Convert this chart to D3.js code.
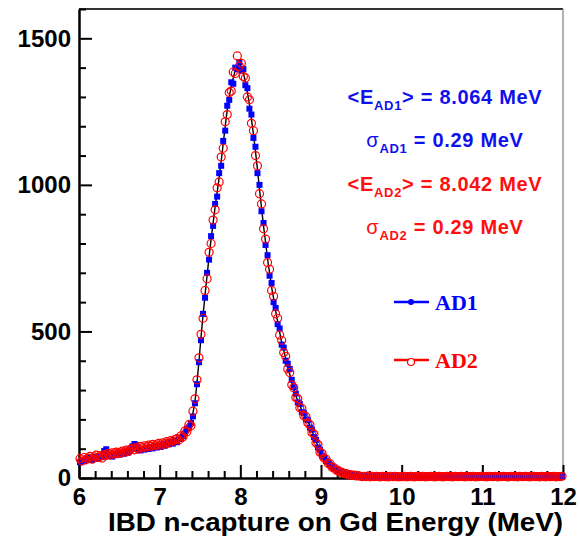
<!DOCTYPE html>
<html>
<head>
<meta charset="utf-8">
<script src="https://cdn.jsdelivr.net/npm/d3@7"></script>
<style>
  body { margin: 0; background: #fff; }
  svg { display: block; }
</style>
</head>
<body>
<svg id="chart" width="580" height="540"></svg>
<script>
// lower bin edges (MeV), 0.025 MeV bins
const binWidth = 0.025;
const binEdges = [
  6.000, 6.025, 6.050, 6.075, 6.100, 6.125, 6.150, 6.175,
  6.200, 6.225, 6.250, 6.275, 6.300, 6.325, 6.350, 6.375,
  6.400, 6.425, 6.450, 6.475, 6.500, 6.525, 6.550, 6.575,
  6.600, 6.625, 6.650, 6.675, 6.700, 6.725, 6.750, 6.775,
  6.800, 6.825, 6.850, 6.875, 6.900, 6.925, 6.950, 6.975,
  7.000, 7.025, 7.050, 7.075, 7.100, 7.125, 7.150, 7.175,
  7.200, 7.225, 7.250, 7.275, 7.300, 7.325, 7.350, 7.375,
  7.400, 7.425, 7.450, 7.475, 7.500, 7.525, 7.550, 7.575,
  7.600, 7.625, 7.650, 7.675, 7.700, 7.725, 7.750, 7.775,
  7.800, 7.825, 7.850, 7.875, 7.900, 7.925, 7.950, 7.975,
  8.000, 8.025, 8.050, 8.075, 8.100, 8.125, 8.150, 8.175,
  8.200, 8.225, 8.250, 8.275, 8.300, 8.325, 8.350, 8.375,
  8.400, 8.425, 8.450, 8.475, 8.500, 8.525, 8.550, 8.575,
  8.600, 8.625, 8.650, 8.675, 8.700, 8.725, 8.750, 8.775,
  8.800, 8.825, 8.850, 8.875, 8.900, 8.925, 8.950, 8.975,
  9.000, 9.025, 9.050, 9.075, 9.100, 9.125, 9.150, 9.175,
  9.200, 9.225, 9.250, 9.275, 9.300, 9.325, 9.350, 9.375,
  9.400, 9.425, 9.450, 9.475, 9.500, 9.525, 9.550, 9.575,
  9.600, 9.625, 9.650, 9.675, 9.700, 9.725, 9.750, 9.775,
  9.800, 9.825, 9.850, 9.875, 9.900, 9.925, 9.950, 9.975,
  10.000, 10.025, 10.050, 10.075, 10.100, 10.125, 10.150, 10.175,
  10.200, 10.225, 10.250, 10.275, 10.300, 10.325, 10.350, 10.375,
  10.400, 10.425, 10.450, 10.475, 10.500, 10.525, 10.550, 10.575,
  10.600, 10.625, 10.650, 10.675, 10.700, 10.725, 10.750, 10.775,
  10.800, 10.825, 10.850, 10.875, 10.900, 10.925, 10.950, 10.975,
  11.000, 11.025, 11.050, 11.075, 11.100, 11.125, 11.150, 11.175,
  11.200, 11.225, 11.250, 11.275, 11.300, 11.325, 11.350, 11.375,
  11.400, 11.425, 11.450, 11.475, 11.500, 11.525, 11.550, 11.575,
  11.600, 11.625, 11.650, 11.675, 11.700, 11.725, 11.750, 11.775,
  11.800, 11.825, 11.850, 11.875, 11.900, 11.925, 11.950, 11.975
];

const ad1Counts = [
  54, 60, 58, 66, 63, 70, 62, 68, 72, 66,
  74, 71, 92, 98, 76, 80, 73, 82, 78, 84,
  80, 86, 83, 90, 87, 94, 108, 116, 112, 96,
  94, 100, 97, 103, 99, 106, 101, 108, 104, 110,
  106, 114, 110, 118, 115, 122, 117, 126, 122, 135,
  133, 142, 152, 168, 172, 188, 210, 255, 320, 395,
  470, 560, 615, 700, 745, 825, 860, 935, 960, 1040,
  1065, 1150, 1185, 1270, 1290, 1350, 1345, 1400, 1395, 1418,
  1390, 1395, 1340, 1330, 1260, 1240, 1160, 1130, 1040, 1000,
  910, 870, 795, 760, 690, 665, 600, 580, 525, 510,
  455, 445, 400, 390, 372, 335, 310, 288, 258, 252,
  225, 222, 200, 197, 172, 165, 140, 130, 104, 96,
  76, 72, 58, 55, 44, 40, 32, 30, 23, 22,
  17, 17, 13, 12, 10, 11, 8, 9, 6, 7,
  6, 5, 7, 5, 6, 4, 6, 5, 7, 5,
  5, 4, 6, 5, 5, 6, 4, 5, 6, 5,
  4, 6, 5, 5, 4, 6, 5, 5, 6, 4,
  5, 6, 5, 4, 5, 6, 5, 5, 4, 6,
  5, 5, 6, 4, 5, 5, 6, 5, 4, 5,
  6, 5, 5, 4, 6, 5, 5, 6, 4, 5,
  5, 6, 4, 5, 5, 6, 5, 4, 6, 5,
  5, 4, 6, 5, 5, 6, 4, 5, 5, 6,
  4, 5, 6, 5, 5, 4, 6, 5, 5, 4,
  6, 5, 4, 5, 6, 5, 5, 4, 6, 5
];

const ad2Counts = [
  66, 58, 70, 62, 68, 74, 64, 72, 78, 70,
  76, 68, 80, 77, 84, 79, 86, 82, 88, 84,
  86, 92, 88, 95, 91, 98, 102, 96, 104, 99,
  108, 103, 110, 106, 112, 108, 115, 110, 113, 118,
  112, 120, 116, 124, 119, 128, 125, 131, 134, 130,
  144, 140, 160, 158, 182, 178, 228, 270, 335, 410,
  490, 545, 640, 680, 770, 800, 880, 915, 990, 1010,
  1095, 1125, 1215, 1240, 1315, 1320, 1385, 1380, 1440, 1405,
  1415, 1370, 1365, 1300, 1290, 1210, 1185, 1100, 1065, 970,
  935, 850, 815, 735, 712, 640, 620, 560, 545, 488,
  470, 428, 415, 372, 360, 318, 308, 275, 270, 240,
  238, 212, 210, 188, 182, 155, 150, 120, 114, 88,
  84, 68, 64, 50, 48, 37, 35, 27, 26, 20,
  19, 15, 15, 11, 12, 9, 10, 7, 8, 6,
  5, 6, 5, 7, 4, 6, 5, 6, 5, 4,
  6, 5, 5, 4, 6, 5, 6, 5, 4, 5,
  5, 6, 4, 5, 6, 5, 4, 6, 5, 5,
  6, 4, 5, 5, 6, 5, 4, 5, 6, 5,
  4, 5, 6, 5, 5, 4, 6, 5, 5, 6,
  5, 4, 6, 5, 5, 6, 4, 5, 5, 6,
  5, 5, 4, 6, 5, 5, 6, 4, 5, 5,
  6, 5, 4, 5, 6, 5, 5, 4, 6, 5,
  5, 6, 5, 4, 5, 6, 5, 5, 4, 6,
  5, 4, 6, 5, 5, 6, 4, 5, 5, 6
];

const fitCounts = [
  61, 62, 63, 64, 65, 66, 67, 68, 69, 70,
  71, 72, 73, 74, 75, 76, 77, 78, 79, 80,
  81, 82, 84, 85, 87, 88, 90, 92, 93, 95,
  96, 97, 98, 99, 100, 101, 102, 104, 105, 107,
  110, 112, 114, 116, 118, 120, 122, 126, 129, 134,
  139, 146, 155, 166, 176, 195, 222, 262, 325, 400,
  480, 555, 625, 690, 755, 815, 870, 925, 975, 1025,
  1080, 1140, 1200, 1255, 1300, 1335, 1365, 1390, 1405, 1410,
  1402, 1380, 1352, 1315, 1275, 1225, 1172, 1115, 1052, 985,
  922, 860, 805, 748, 700, 652, 612, 570, 534, 498,
  462, 436, 408, 381, 354, 326, 302, 281, 264, 247,
  232, 218, 206, 193, 178, 161, 144, 126, 109, 92,
  80, 70, 61, 53, 46, 39, 34, 29, 25, 21,
  18, 16, 14, 12, 11, 10, 9, 8, 7, 7,
  6, 6, 6, 6, 6, 6, 6, 6, 6, 6,
  5, 5, 5, 5, 5, 5, 5, 5, 5, 5,
  5, 5, 5, 5, 5, 5, 5, 5, 5, 5,
  5, 5, 5, 5, 5, 5, 5, 5, 5, 5,
  5, 5, 5, 5, 5, 5, 5, 5, 5, 5,
  5, 5, 5, 5, 5, 5, 5, 5, 5, 5,
  5, 5, 5, 5, 5, 5, 5, 5, 5, 5,
  5, 5, 5, 5, 5, 5, 5, 5, 5, 5,
  5, 5, 5, 5, 5, 5, 5, 5, 5, 5,
  5, 5, 5, 5, 5, 5, 5, 5, 5, 5
];

const xTicks = [6, 7, 8, 9, 10, 11, 12];
const yTicks = [0, 500, 1000, 1500];

const margin = { top: 9, right: 17, bottom: 62, left: 79 },
  width = 580 - margin.left - margin.right,
  height = 540 - margin.top - margin.bottom;

const svg = d3.select("#chart")
  .append("g")
  .attr("transform", "translate(" + margin.left + "," + margin.top + ")");

const x = d3.scaleLinear().domain([6, 12]).range([0, width]);
const y = d3.scaleLinear().domain([0, 1600]).range([height, 0]);
const cx = i => x(binEdges[i] + binWidth / 2);

const font = "'Liberation Sans', Arial, Helvetica, sans-serif";

// frame (top and right)
svg.append("line").attr("x1", 0).attr("x2", width).attr("y1", 0).attr("y2", 0)
  .attr("stroke", "#333").attr("stroke-width", 2);
svg.append("line").attr("x1", width).attr("x2", width).attr("y1", 0).attr("y2", height)
  .attr("stroke", "#999").attr("stroke-width", 1.5);

// minor ticks
const xMinor = d3.range(6, 12.001, 0.2).filter(v => Math.abs(v - Math.round(v)) > 0.01);
const yMinor = d3.range(0, 1601, 100).filter(v => v % 500 !== 0);

svg.append("g")
  .attr("transform", `translate(0,${height})`)
  .call(d3.axisBottom(x).tickValues(xMinor).tickSizeInner(-7).tickSizeOuter(0).tickFormat(""))
  .call(g => g.select(".domain").remove())
  .call(g => g.selectAll("line").attr("stroke-width", 2));

svg.append("g")
  .call(d3.axisLeft(y).tickValues(yMinor).tickSizeInner(-7).tickSizeOuter(0).tickFormat(""))
  .call(g => g.select(".domain").remove())
  .call(g => g.selectAll("line").attr("stroke-width", 2));

// major axes
const xAxis = svg.append("g")
  .attr("transform", `translate(0,${height})`)
  .call(d3.axisBottom(x).tickValues(xTicks).tickSizeInner(-13).tickSizeOuter(0).tickPadding(10).tickFormat(d3.format("d")));

const yAxis = svg.append("g")
  .call(d3.axisLeft(y).tickValues(yTicks).tickSizeInner(-13).tickSizeOuter(0).tickPadding(8).tickFormat(d3.format("d")));

[xAxis, yAxis].forEach(g => {
  g.select(".domain").attr("stroke-width", 2.5);
  g.selectAll(".tick line").attr("stroke-width", 2);
  g.selectAll("text")
    .style("font-family", font)
    .style("font-weight", "bold")
    .style("font-size", "24px")
    .attr("fill", "#000");
});

// x axis title
svg.append("text")
  .attr("x", width)
  .attr("y", height + 53)
  .attr("text-anchor", "end")
  .attr("textLength", 455)
  .attr("lengthAdjust", "spacingAndGlyphs")
  .style("font-family", font)
  .style("font-weight", "bold")
  .style("font-size", "25px")
  .text("IBD n-capture on Gd Energy (MeV)");

// fit curve
const fitLine = d3.line()
  .x((d, i) => cx(i))
  .y(d => y(d))
  .curve(d3.curveMonotoneX);

svg.append("path")
  .datum(fitCounts)
  .attr("d", fitLine)
  .attr("fill", "none")
  .attr("stroke", "#000")
  .attr("stroke-width", 1.4);

// AD1 points (filled blue squares)
svg.selectAll("rect.ad1")
  .data(ad1Counts)
  .enter().append("rect")
  .attr("class", "ad1")
  .attr("x", (d, i) => cx(i) - 3)
  .attr("y", d => y(d) - 3)
  .attr("width", 6)
  .attr("height", 6)
  .attr("fill", "#0000ff");

// AD2 points (open red circles)
svg.selectAll("circle.ad2")
  .data(ad2Counts)
  .enter().append("circle")
  .attr("class", "ad2")
  .attr("cx", (d, i) => cx(i))
  .attr("cy", d => y(d))
  .attr("r", 4)
  .attr("fill", "none")
  .attr("stroke", "#ff0000")
  .attr("stroke-width", 1.2);

// annotations
const notes = [
  { sym: "<E", sub: "AD1", rest: "> = 8.064 MeV", color: "#1010ee", y: 95 },
  { sym: "\u03c3", sub: "AD1", rest: " = 0.29 MeV", color: "#1010ee", y: 138 },
  { sym: "<E", sub: "AD2", rest: "> = 8.042 MeV", color: "#ff1010", y: 182 },
  { sym: "\u03c3", sub: "AD2", rest: " = 0.29 MeV", color: "#ff1010", y: 225 }
];

notes.forEach(n => {
  const t = svg.append("text")
    .attr("x", 366)
    .attr("y", n.y)
    .attr("text-anchor", "middle")
    .attr("fill", n.color)
    .style("font-family", font)
    .style("font-weight", "bold")
    .style("font-size", "20px")
    .style("letter-spacing", "0.7px");
  t.append("tspan").text(n.sym).style("font-weight", n.sym === "\u03c3" ? "normal" : "bold");
  t.append("tspan").attr("dy", 6).style("font-size", "13px").text(n.sub);
  t.append("tspan").attr("dy", -6).text(n.rest);
});

// legend
const legend = [
  { name: "AD1", color: "#0000ff", y: 293, marker: "dot" },
  { name: "AD2", color: "#ff0000", y: 351, marker: "circle" }
];

legend.forEach(l => {
  const g = svg.append("g").attr("transform", `translate(315,${l.y})`);
  g.append("line").attr("x1", 0).attr("x2", 35).attr("stroke", l.color).attr("stroke-width", 2.5);
  if (l.marker === "dot") {
    g.append("circle").attr("cx", 17).attr("r", 3).attr("fill", l.color);
  } else {
    g.append("circle").attr("cx", 17).attr("cy", 2).attr("r", 3.5)
      .attr("fill", "#fff").attr("stroke", l.color).attr("stroke-width", 1.2);
  }
  g.append("text")
    .attr("x", 41)
    .attr("y", 8)
    .attr("fill", l.color)
    .style("font-family", "'Liberation Serif', 'Times New Roman', serif")
    .style("font-weight", "bold")
    .style("font-size", "22px")
    .text(l.name);
});
</script>
</body>
</html>
